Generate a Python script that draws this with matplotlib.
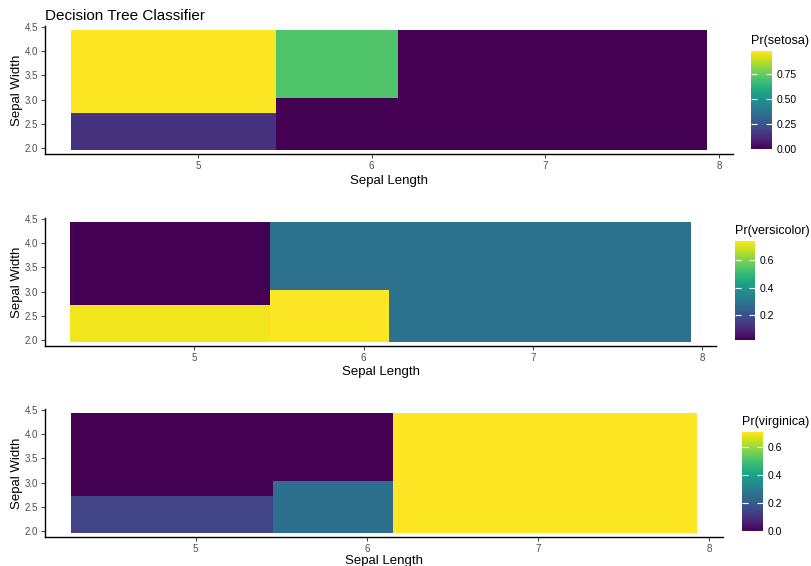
import numpy as np
import matplotlib
matplotlib.use("Agg")
import matplotlib.pyplot as plt

plt.rcParams['font.family'] = ['Liberation Sans', 'DejaVu Sans']

# tree splits (sepal length / sepal width)
split_len_1 = 5.45
split_len_2 = 6.15
split_wid_left = 2.73
split_wid_mid = 3.03

# leaf order: left-low, left-high, mid-low, mid-high, right
classes = ['setosa', 'versicolor', 'virginica']
p_setosa = [0.143, 0.978, 0.0, 0.71, 0.0]
p_versicolor = [0.725, 0.022, 0.74, 0.29, 0.29]
p_virginica = [0.143, 0.0, 0.26, 0.0, 0.71]

cbar_ticks = {
    'setosa': [0.0, 0.25, 0.5, 0.75],
    'versicolor': [0.2, 0.4, 0.6],
    'virginica': [0.0, 0.2, 0.4, 0.6],
}
cbar_fmt = {'setosa': '%.2f', 'versicolor': '%.1f', 'virginica': '%.1f'}

# prediction grid over the iris range (plus a little margin)
xs = np.arange(4.28, 7.921, 0.02)
ys = np.arange(1.98, 4.421, 0.02)
X, Y = np.meshgrid(xs, ys)

leaf = np.where(X < split_len_1,
                np.where(Y < split_wid_left, 0, 1),
                np.where(X < split_len_2,
                         np.where(Y < split_wid_mid, 2, 3), 4))

W, H = 811, 566
fig = plt.figure(figsize=(W / 100, H / 100), dpi=100)

def px_axes(l, t, r, b):
    return fig.add_axes([l / W, 1 - b / H, (r - l) / W, (b - t) / H])

panels = [(45, 26, 733, 154), (45, 218, 716, 346), (45, 409, 723, 537)]
cbars = [(751, 51, 772, 149), (735, 241, 755, 340), (742, 432, 763, 531)]
xpads = [3, 2, 0.5]
probs = [p_setosa, p_versicolor, p_virginica]

for i, name in enumerate(classes):
    ax = px_axes(*panels[i])
    Z = np.array(probs[i])[leaf]
    mesh = ax.pcolormesh(xs, ys, Z, cmap='viridis', shading='nearest')
    ax.set_xlim(4.12, 8.08)
    ax.set_ylim(1.88, 4.52)
    ax.set_xticks([5, 6, 7, 8])
    ax.set_yticks([2.0, 2.5, 3.0, 3.5, 4.0, 4.5])
    ax.set_yticklabels(['2.0', '2.5', '3.0', '3.5', '4.0', '4.5'])
    for s in ['top', 'right']:
        ax.spines[s].set_visible(False)
    for s in ['left', 'bottom']:
        ax.spines[s].set_linewidth(1.0)
    ax.tick_params(colors='#4d4d4d', labelsize=7, length=3, width=0.8, pad=2)
    ax.set_xlabel('Sepal Length', fontsize=9.5, labelpad=xpads[i])
    ax.set_ylabel('Sepal Width', fontsize=9.5, labelpad=1)
    if i == 0:
        ax.set_title('Decision Tree Classifier', fontsize=11, loc='left', pad=4)

    cax = px_axes(*cbars[i])
    cb = fig.colorbar(mesh, cax=cax, ticks=cbar_ticks[name], format=cbar_fmt[name])
    cb.outline.set_visible(False)
    cax.yaxis.set_ticks_position('both')
    cax.tick_params(direction='in', color='white', length=4, width=0.8,
                    labelsize=7.5, labelleft=False, labelright=True, pad=3)
    cax.text(0, 1.04, 'Pr(%s)' % name, transform=cax.transAxes,
             fontsize=9, ha='left', va='bottom')

fig.savefig('out.png', dpi=100)
